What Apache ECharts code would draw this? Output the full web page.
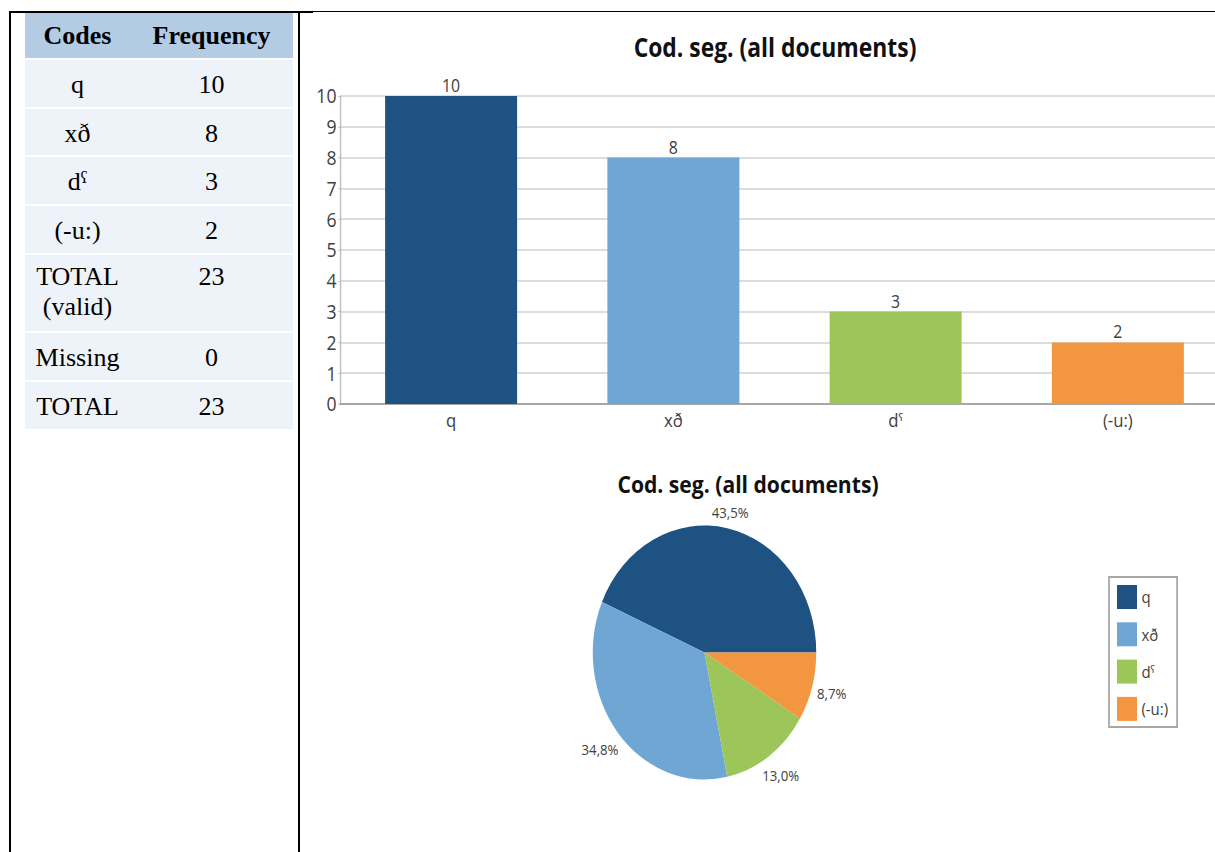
<!DOCTYPE html>
<html>
<head>
<meta charset="utf-8">
<title>Cod. seg. (all documents)</title>
<script src="https://cdn.jsdelivr.net/npm/echarts@6/dist/echarts.min.js"></script>
<style>
  html, body { margin: 0; padding: 0; background: #fff; }
  body { position: relative; width: 1215px; height: 852px; overflow: hidden; }
  /* chart layer is drawn wide and narrowed horizontally */
  #chart { position: absolute; left: 0; top: 0; width: 1381px; height: 852px;
           transform: scaleX(0.88); transform-origin: 0 0; z-index: 0; }
  .rule { position: absolute; background: #000; z-index: 3; }
  #freqTable { position: absolute; left: 25px; top: 11px; z-index: 2;
               border-collapse: separate; border-spacing: 0 2px; table-layout: fixed; width: 268px;
               font-family: "Liberation Serif", "Times New Roman", serif; font-size: 26px; color: #000; }
  #freqTable th { background: #b4cbe4; padding: 0; vertical-align: middle; font-weight: bold; text-align: center; line-height: 30px; }
  #freqTable td { background: #eef3f9; padding: 10px 0 0 0; vertical-align: top; text-align: center; line-height: 30px; }
  #freqTable tr.two td { padding-top: 7px; }
</style>
</head>
<body>
<div class="rule" style="left:9px;top:11px;width:2px;height:841px"></div>
<div class="rule" style="left:298px;top:11px;width:2px;height:841px"></div>
<div class="rule" style="left:9px;top:11px;width:304px;height:2px"></div>
<div class="rule" style="left:313px;top:11px;width:902px;height:1px"></div>

<table id="freqTable">
  <colgroup><col style="width:105px"><col style="width:163px"></colgroup>
  <thead><tr style="height:45px"><th>Codes</th><th>Frequency</th></tr></thead>
  <tbody id="freqBody"></tbody>
</table>

<div id="chart"></div>

<script>
// ---- data ----
const codes = ['q', 'xð', 'dˤ', '(-u:)'];
const frequencies = [10, 8, 3, 2];
const codeColors = ['#1e5282', '#70a6d3', '#9cc55a', '#f39640'];
const missingCount = [0];
const chartTitle = 'Cod. seg. (all documents)';
const yAxisMin = 0, yAxisMax = 10, yAxisStep = 1;

const validTotal = frequencies.reduce((a, b) => a + b, 0);

// ---- frequency table ----
const tableLabels = codes.concat(['TOTAL<br>(valid)', 'Missing', 'TOTAL']);
const tableValues = frequencies.concat([validTotal, missingCount[0], validTotal + missingCount[0]]);
const rowHeights = [47, 46, 47, 47, 76, 47, 47];
const body = document.getElementById('freqBody');
tableLabels.forEach(function (label, i) {
  const tr = document.createElement('tr');
  tr.style.height = rowHeights[i] + 'px';
  if (label.indexOf('<br>') >= 0) tr.className = 'two';
  tr.innerHTML = '<td>' + label + '</td><td>' + tableValues[i] + '</td>';
  body.appendChild(tr);
});

// ---- charts ----
const K = 0.88;                 // horizontal scale applied to the chart layer
const u = function (x) { return x / K; };

const pieCenter = [u(704.5), 652.5];
const pieRadius = 127;
const textGray = '#404040';
const font = '"Open Sans", "Noto Sans", sans-serif';

function pctLabel(v) {
  return (v / validTotal * 100).toFixed(1).replace('.', ',') + '%';
}

const chart = echarts.init(document.getElementById('chart'), null, { renderer: 'svg' });

chart.setOption({
  animation: false,
  textStyle: { fontFamily: font },
  graphic: [
    { type: 'text', x: u(775), y: 47,
      style: { text: chartTitle, fontSize: 26, fontWeight: 'bold', fontFamily: font, fill: '#111',
               align: 'center', verticalAlign: 'middle' } },
    { type: 'text', x: u(748), y: 483.5,
      style: { text: chartTitle, fontSize: 24, fontWeight: 'bold', fontFamily: font, fill: '#111',
               align: 'center', verticalAlign: 'middle' } }
  ],
  // the plot runs past the right edge of the page, so no automatic fitting
  grid: { left: u(340), top: 96, width: u(889), height: 308, outerBoundsMode: 'none', containLabel: false },
  xAxis: {
    type: 'category',
    data: codes,
    axisLine: { lineStyle: { color: '#a6a6a6', width: 2 } },
    axisTick: { show: false },
    axisLabel: { fontSize: 19, color: textGray, margin: 6, fontFamily: font }
  },
  yAxis: {
    type: 'value',
    min: yAxisMin, max: yAxisMax, interval: yAxisStep,
    axisLine: { show: true, lineStyle: { color: '#bdbdbd', width: 1.5 } },
    axisTick: { show: true, length: 2, lineStyle: { color: '#bdbdbd' } },
    axisLabel: { fontSize: 20, color: textGray, margin: 4, fontFamily: font },
    splitLine: { lineStyle: { color: '#d2d2d2', width: 1.5 } }
  },
  legend: {
    orient: 'vertical',
    left: u(1109), top: 577,
    padding: [8, u(9), 6, u(8)],
    itemWidth: u(20), itemHeight: 24, itemGap: 13.3,
    icon: 'rect',
    borderColor: '#a6a6a6', borderWidth: 2, backgroundColor: '#fff',
    selectedMode: false,
    textStyle: { fontSize: 17, color: textGray, fontFamily: font },
    data: codes
  },
  series: [
    {
      type: 'bar',
      name: 'Frequency',
      data: frequencies.map(function (v, i) { return { value: v, itemStyle: { color: codeColors[i] } }; }),
      barWidth: u(132),
      label: { show: true, position: 'top', distance: 2, fontSize: 18, color: textGray, fontFamily: font },
      emphasis: { disabled: true }
    },
    {
      type: 'pie',
      center: pieCenter,
      radius: pieRadius,
      startAngle: 0,
      clockwise: false,
      data: codes.map(function (c, i) { return { name: c, value: frequencies[i], itemStyle: { color: codeColors[i] } }; }),
      label: {
        show: true, position: 'outside', fontSize: 15, color: textGray, fontFamily: font,
        formatter: function (p) { return pctLabel(p.value); }
      },
      labelLine: { show: false },
      // place each percentage just outside the rim, along the slice's middle direction
      labelLayout: function (params) {
        const i = params.dataIndex;
        let before = 0;
        for (let j = 0; j < i; j++) before += frequencies[j];
        const theta = 2 * Math.PI * (before + frequencies[i] / 2) / validTotal;
        const dx = Math.cos(theta), dy = -Math.sin(theta);
        const hw = params.labelRect.width / 2, hh = params.labelRect.height / 2;
        const d = pieRadius + 5 + Math.abs(dx) * hw + Math.abs(dy) * hh;
        return { x: pieCenter[0] + dx * d, y: pieCenter[1] + dy * d, align: 'center', verticalAlign: 'middle' };
      },
      emphasis: { disabled: true }
    }
  ]
});
</script>
</body>
</html>
